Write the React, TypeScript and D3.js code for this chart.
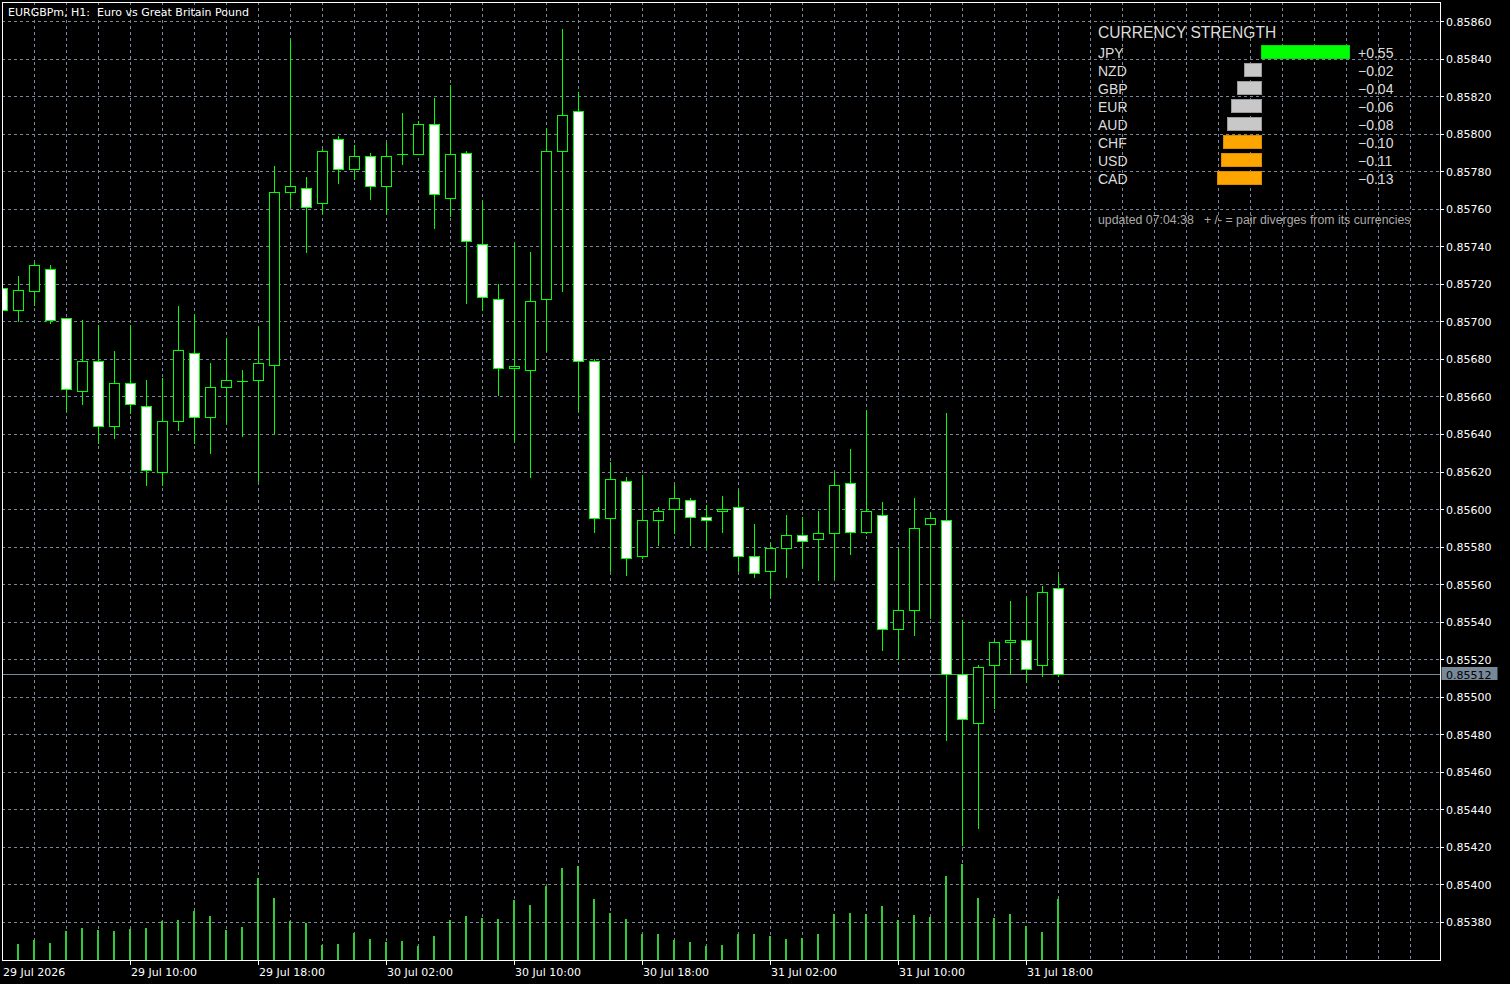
import React from "react";
import * as d3 from "d3";

// H1 bars, EURGBPm
const barTimes: string[] = [
  "2026-07-29 02:00", "2026-07-29 03:00", "2026-07-29 04:00", "2026-07-29 05:00", "2026-07-29 06:00",
  "2026-07-29 07:00", "2026-07-29 08:00", "2026-07-29 09:00", "2026-07-29 10:00", "2026-07-29 11:00",
  "2026-07-29 12:00", "2026-07-29 13:00", "2026-07-29 14:00", "2026-07-29 15:00", "2026-07-29 16:00",
  "2026-07-29 17:00", "2026-07-29 18:00", "2026-07-29 19:00", "2026-07-29 20:00", "2026-07-29 21:00",
  "2026-07-29 22:00", "2026-07-29 23:00",
  "2026-07-30 00:00", "2026-07-30 01:00", "2026-07-30 02:00", "2026-07-30 03:00", "2026-07-30 04:00",
  "2026-07-30 05:00", "2026-07-30 06:00", "2026-07-30 07:00", "2026-07-30 08:00", "2026-07-30 09:00",
  "2026-07-30 10:00", "2026-07-30 11:00", "2026-07-30 12:00", "2026-07-30 13:00", "2026-07-30 14:00",
  "2026-07-30 15:00", "2026-07-30 16:00", "2026-07-30 17:00", "2026-07-30 18:00", "2026-07-30 19:00",
  "2026-07-30 20:00", "2026-07-30 21:00", "2026-07-30 22:00", "2026-07-30 23:00",
  "2026-07-31 00:00", "2026-07-31 01:00", "2026-07-31 02:00", "2026-07-31 03:00", "2026-07-31 04:00",
  "2026-07-31 05:00", "2026-07-31 06:00", "2026-07-31 07:00", "2026-07-31 08:00", "2026-07-31 09:00",
  "2026-07-31 10:00", "2026-07-31 11:00", "2026-07-31 12:00", "2026-07-31 13:00", "2026-07-31 14:00",
  "2026-07-31 15:00", "2026-07-31 16:00", "2026-07-31 17:00", "2026-07-31 18:00", "2026-07-31 19:00",
  "2026-07-31 20:00",
];

const opens = [
  0.85718, 0.85706, 0.85716, 0.85728, 0.85702, 0.85663, 0.85679, 0.85644, 0.85667, 0.85655,
  0.85620, 0.85647, 0.85683, 0.85649, 0.85665, 0.85668, 0.85669, 0.85677, 0.85769, 0.85771,
  0.85763, 0.85797, 0.85781, 0.85788, 0.85772, 0.85789, 0.85789, 0.85805, 0.85766, 0.85790,
  0.85741, 0.85712, 0.85675, 0.85674, 0.85712, 0.85791, 0.85812, 0.85679, 0.85595, 0.85615,
  0.85575, 0.85594, 0.85600, 0.85605, 0.85596, 0.85599, 0.85601, 0.85575, 0.85567, 0.85579,
  0.85586, 0.85584, 0.85587, 0.85614, 0.85588, 0.85597, 0.85536, 0.85546, 0.85592, 0.85594,
  0.85512, 0.85486, 0.85517, 0.85529, 0.85530, 0.85517, 0.85558,
];
const highs = [
  0.85720, 0.85724, 0.85731, 0.85730, 0.85702, 0.85701, 0.85698, 0.85684, 0.85698, 0.85669,
  0.85670, 0.85708, 0.85704, 0.85678, 0.85691, 0.85674, 0.85697, 0.85783, 0.85850, 0.85777,
  0.85792, 0.85799, 0.85794, 0.85790, 0.85795, 0.85811, 0.85807, 0.85819, 0.85826, 0.85791,
  0.85764, 0.85720, 0.85742, 0.85737, 0.85803, 0.85856, 0.85822, 0.85680, 0.85625, 0.85617,
  0.85618, 0.85601, 0.85613, 0.85606, 0.85602, 0.85607, 0.85610, 0.85592, 0.85582, 0.85597,
  0.85596, 0.85599, 0.85620, 0.85632, 0.85653, 0.85604, 0.85579, 0.85606, 0.85598, 0.85651,
  0.85541, 0.85517, 0.85530, 0.85551, 0.85553, 0.85559, 0.85565,
];
const lows = [
  0.85705, 0.85700, 0.85709, 0.85699, 0.85652, 0.85656, 0.85635, 0.85638, 0.85651, 0.85613,
  0.85613, 0.85642, 0.85635, 0.85630, 0.85646, 0.85639, 0.85615, 0.85640, 0.85761, 0.85737,
  0.85758, 0.85774, 0.85776, 0.85765, 0.85757, 0.85784, 0.85789, 0.85750, 0.85756, 0.85710,
  0.85706, 0.85661, 0.85636, 0.85617, 0.85684, 0.85716, 0.85652, 0.85588, 0.85567, 0.85565,
  0.85574, 0.85581, 0.85587, 0.85581, 0.85580, 0.85588, 0.85567, 0.85564, 0.85553, 0.85564,
  0.85569, 0.85562, 0.85563, 0.85576, 0.85587, 0.85525, 0.85520, 0.85533, 0.85542, 0.85477,
  0.85421, 0.85430, 0.85494, 0.85512, 0.85508, 0.85511, 0.85511,
];
const closes = [
  0.85706, 0.85717, 0.85730, 0.85701, 0.85664, 0.85679, 0.85644, 0.85667, 0.85656, 0.85621,
  0.85647, 0.85685, 0.85649, 0.85665, 0.85669, 0.85668, 0.85678, 0.85769, 0.85772, 0.85761,
  0.85791, 0.85781, 0.85788, 0.85772, 0.85788, 0.85789, 0.85805, 0.85768, 0.85789, 0.85743,
  0.85713, 0.85675, 0.85676, 0.85711, 0.85791, 0.85810, 0.85679, 0.85595, 0.85616, 0.85574,
  0.85594, 0.85599, 0.85606, 0.85596, 0.85594, 0.85600, 0.85575, 0.85566, 0.85579, 0.85586,
  0.85583, 0.85587, 0.85613, 0.85588, 0.85599, 0.85536, 0.85546, 0.85590, 0.85595, 0.85512,
  0.85488, 0.85516, 0.85529, 0.85530, 0.85515, 0.85556, 0.85512,
];
const volumes = [
  300, 192, 240, 204, 348, 384, 360, 348, 372, 384, 468,
  480, 588, 528, 360, 396, 984, 744, 468, 444, 180,
  192, 324, 252, 216, 228, 168, 288, 480, 528, 504,
  492, 720, 660, 888, 1104, 1128, 732, 564, 492, 312,
  312, 240, 216, 168, 180, 312, 312, 288, 252, 264,
  312, 552, 564, 552, 648, 480, 540, 516, 1008, 1152,
  744, 504, 552, 408, 336, 732,
];

const priceTicks = [
  0.8538, 0.854, 0.8542, 0.8544, 0.8546, 0.8548, 0.855, 0.8552, 0.8554, 0.8556, 0.8558, 0.856,
  0.8562, 0.8564, 0.8566, 0.8568, 0.857, 0.8572, 0.8574, 0.8576, 0.8578, 0.858, 0.8582, 0.8584, 0.8586,
];
const timeTicks = [
  "2026-07-29 10:00", "2026-07-29 18:00", "2026-07-30 02:00", "2026-07-30 10:00",
  "2026-07-30 18:00", "2026-07-31 02:00", "2026-07-31 10:00", "2026-07-31 18:00",
];

const currencies = ["JPY", "NZD", "GBP", "EUR", "AUD", "CHF", "USD", "CAD"];
const strengths = [0.55, -0.02, -0.04, -0.06, -0.08, -0.1, -0.11, -0.13];

const W = 1510;
const H = 984;
const plot = { left: 2, top: 2, right: 1440, bottom: 960 };
const GRID = "#778899";
const CANDLE = "#00ff00";
const axisFont = "'DejaVu Sans', Verdana, sans-serif";
const panelFont = "'Liberation Sans', Arial, sans-serif";

export default function App() {
  const parse = d3.timeParse("%Y-%m-%d %H:%M");
  const fmtTick = d3.timeFormat("%d %b %H:%M");
  const fmtFirst = d3.timeFormat("%d %b %Y");
  const fmtPrice = d3.format(".5f");
  const fmtStrength = d3.format("+.2f");

  // bar index -> pixel centre
  const x = d3.scaleLinear().domain([0, 1]).range([2, 18]);
  const y = d3.scaleLinear().domain([0.8538, 0.8586]).range([922.3, 21.7]);
  const vy = d3.scaleLinear().domain([0, 1200]).range([plot.bottom, plot.bottom - 100]);
  const sx = d3.scaleSqrt().domain([0, 1]).range([0, 120]);

  const py = (p: number) => Math.floor(y(p)) + 0.5; // crisp horizontal line
  const gridX = d3.range(2, 90, 2).map((j) => x(j)).filter((v) => v < plot.right);
  const last = closes.length - 1;
  const lastY = y(closes[last]);

  const panelX = 1098;
  const zeroX = 1261;
  const rowBase = (k: number) => 58.3 + k * 18;

  const barColor = (v: number) =>
    v > 0 ? ["#00ff00", "#00e000"] : v <= -0.1 ? ["#ffa500", "#d98c00"] : ["#c8c8c8", "#999999"];

  return (
    <svg width={W} height={H} style={{ position: "absolute", left: 0, top: 0, display: "block" }}>
      <defs>
        <clipPath id="plotClip">
          <rect x={plot.left} y={plot.top} width={plot.right - plot.left} height={plot.bottom - plot.top} />
        </clipPath>
      </defs>
      <rect x={0} y={0} width={W} height={H} fill="#000" />

      {/* grid */}
      <g stroke={GRID} strokeWidth={1} strokeDasharray="3,3" shapeRendering="crispEdges">
        {priceTicks.map((p) => (
          <line key={p} x1={plot.left} x2={plot.right} y1={py(p)} y2={py(p)} />
        ))}
        {gridX.map((gx) => (
          <line key={gx} x1={gx + 0.5} x2={gx + 0.5} y1={plot.top} y2={plot.bottom} />
        ))}
      </g>

      {/* bid line */}
      <line x1={plot.left} x2={plot.right} y1={py(closes[last])} y2={py(closes[last])} stroke={GRID} shapeRendering="crispEdges" />

      <g clipPath="url(#plotClip)" shapeRendering="crispEdges">
        {/* volumes */}
        {volumes.map((v, j) => (
          <line key={"v" + j} x1={x(j)} x2={x(j)} y1={plot.bottom} y2={vy(v)} stroke="#32cd32" strokeWidth={2} />
        ))}
        {/* candles */}
        {opens.map((o, j) => {
          const c = closes[j];
          const cx = x(j);
          const top = Math.floor(y(Math.max(o, c)));
          const bot = Math.floor(y(Math.min(o, c)));
          return (
            <g key={"c" + j}>
              <line x1={cx + 0.5} x2={cx + 0.5} y1={Math.floor(y(highs[j]))} y2={Math.floor(y(lows[j])) + 1} stroke={CANDLE} />
              {o === c ? (
                <line x1={cx - 5} x2={cx + 6} y1={top + 0.5} y2={top + 0.5} stroke={CANDLE} />
              ) : (
                <rect
                  x={cx - 4.5}
                  y={top + 0.5}
                  width={10}
                  height={Math.max(1, bot - top)}
                  fill={c < o ? "#ffffff" : "#000000"}
                  stroke={CANDLE}
                />
              )}
            </g>
          );
        })}
      </g>

      {/* frame */}
      <rect x={plot.left + 0.5} y={plot.top + 0.5} width={plot.right - plot.left} height={plot.bottom - plot.top} fill="none" stroke="#fff" shapeRendering="crispEdges" />

      {/* price axis */}
      <g fontFamily={axisFont} fontSize={11} fill="#fff">
        {priceTicks.map((p) => (
          <g key={p}>
            <line x1={plot.right} x2={plot.right + 4} y1={py(p)} y2={py(p)} stroke="#fff" shapeRendering="crispEdges" />
            <text x={1446} y={y(p) + 4}>{fmtPrice(p)}</text>
          </g>
        ))}
        <rect x={1441.5} y={Math.floor(lastY) - 7} width={56} height={13} fill={GRID} />
        <text x={1446} y={lastY + 4} fill="#000">{fmtPrice(closes[last])}</text>
      </g>

      {/* time axis */}
      <g fontFamily={axisFont} fontSize={11} fill="#fff">
        <text x={3} y={975.5}>{fmtFirst(parse(barTimes[0]) as Date)}</text>
        {timeTicks.map((t) => {
          const tx = x(barTimes.indexOf(t));
          return (
            <g key={t}>
              <line x1={tx + 0.5} x2={tx + 0.5} y1={plot.bottom} y2={plot.bottom + 5} stroke="#fff" shapeRendering="crispEdges" />
              <text x={tx + 1} y={975.5}>{fmtTick(parse(t) as Date)}</text>
            </g>
          );
        })}
      </g>

      {/* title */}
      <text x={8} y={16} fontFamily={axisFont} fontSize={11} fill="#fff">
        EURGBPm, H1:{"\u00a0\u00a0"}Euro vs Great Britain Pound
      </text>

      {/* currency strength panel */}
      <g fontFamily={panelFont} fill="#dcdcdc">
        <text x={panelX} y={37.7} fontSize={15.6}>CURRENCY STRENGTH</text>
        {currencies.map((cur, k) => {
          const v = strengths[k];
          const w = sx(Math.abs(v));
          const [fill, edge] = barColor(v);
          const b = rowBase(k);
          return (
            <g key={cur}>
              <text x={panelX} y={b} fontSize={14}>{cur}</text>
              <rect
                x={v > 0 ? zeroX : zeroX - w}
                y={b - 13.3}
                width={w}
                height={13.6}
                fill={fill}
                stroke={edge}
                strokeWidth={1}
                shapeRendering="crispEdges"
              />
              <text x={1358} y={b} fontSize={14}>{fmtStrength(v)}</text>
            </g>
          );
        })}
        <text x={panelX} y={224.3} fontSize={12.3} fill="#a9a9a9" style={{ whiteSpace: "pre" }}>
          {"updated 07:04:38   + /- = pair diverges from its currencies"}
        </text>
      </g>
    </svg>
  );
}
